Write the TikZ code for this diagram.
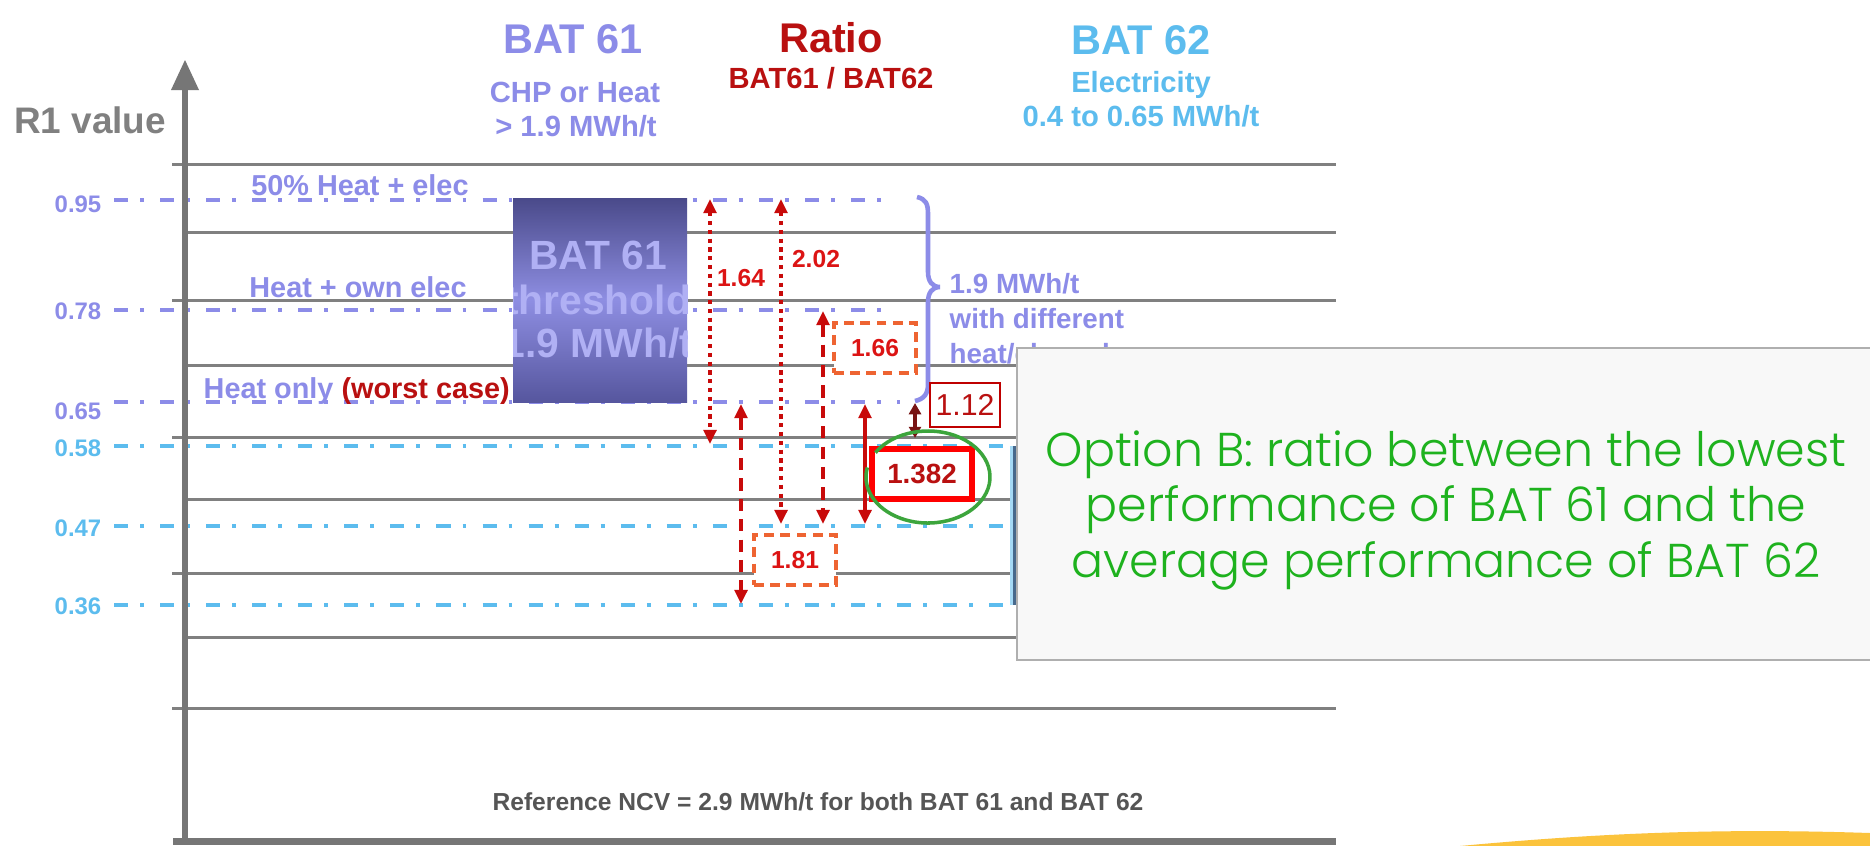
\documentclass[tikz,border=0pt]{standalone}
\usepackage{fontspec}
\setmainfont{Liberation Sans}
\newfontfamily\gothicfont{Poppins Light}
\usetikzlibrary{arrows.meta}
\definecolor{purp}{RGB}{140,140,232}
\definecolor{lblue}{RGB}{92,188,238}
\definecolor{hred}{RGB}{185,16,16}
\definecolor{ared}{RGB}{200,10,10}
\definecolor{lred}{RGB}{220,20,20}
\definecolor{dred}{RGB}{120,20,20}
\definecolor{gridg}{RGB}{128,128,128}
\definecolor{axisg}{RGB}{118,118,118}
\definecolor{txtg}{RGB}{85,85,85}
\definecolor{obgreen}{RGB}{30,178,30}
\definecolor{circgreen}{RGB}{60,165,60}
\definecolor{swoosh}{RGB}{251,195,60}
\definecolor{boxtop}{RGB}{74,74,138}
\definecolor{boxmid}{RGB}{142,142,226}
\definecolor{boxbot}{RGB}{86,86,158}
\definecolor{boxtxt}{RGB}{176,176,244}
\definecolor{orangered}{RGB}{238,100,50}
\definecolor{slate}{RGB}{72,105,140}
\definecolor{obfill}{RGB}{248,248,248}
\definecolor{obborder}{RGB}{175,175,175}
\tikzset{
  gridline/.style={draw=gridg,line width=0.85pt},
  lvl/.style={line width=1.3pt,dash pattern=on 4pt off 3.4pt on 1.1pt off 4.6pt},
  lvlab/.style={anchor=base,inner sep=0pt,font=\bfseries\fontsize{6.8}{8}\selectfont},
  bighead/.style={anchor=base,inner sep=0pt,font=\bfseries\fontsize{11.8}{14}\selectfont},
  subhead/.style={anchor=base,inner sep=0pt,font=\bfseries\fontsize{8.3}{10}\selectfont},
  lvltext/.style={anchor=base,inner sep=0pt,font=\bfseries\fontsize{8.2}{10}\selectfont,text=purp},
  boxtext/.style={anchor=base,inner sep=0pt,text=boxtxt,font=\bfseries\fontsize{11.6}{13}\selectfont},
  bracetext/.style={anchor=base west,inner sep=0pt,text=purp,font=\bfseries\fontsize{7.9}{10}\selectfont},
  tipd/.style={arrows={Triangle[length=4pt,width=3.6pt]-Triangle[length=4pt,width=3.6pt]}},
  dotarr/.style={tipd,draw=ared,line width=1.2pt,dash pattern=on 1.2pt off 1.3pt},
  dasharr/.style={tipd,draw=ared,line width=1.3pt,dash pattern=on 3.5pt off 2.3pt},
  solarr/.style={tipd,draw=ared,line width=1.3pt},
  smallarr/.style={arrows={Triangle[length=3.2pt,width=3.4pt]-Triangle[length=3.2pt,width=3.4pt]},draw=dred,line width=1.1pt},
  ratiolab/.style={anchor=base,inner sep=0pt,text=lred,font=\bfseries\fontsize{7}{8}\selectfont},
  dashbox/.style={draw=orangered,line width=0.9pt,dash pattern=on 2.8pt off 1.8pt,fill=white,inner sep=0pt,minimum width=0.82cm,minimum height=0.5cm,text=lred,font=\bfseries\fontsize{7}{8}\selectfont},
  keybox/.style={draw=red,line width=1.5pt,fill=white,inner sep=0pt,minimum width=1.0cm,minimum height=0.5cm,text=hred,font=\bfseries\fontsize{7.9}{9}\selectfont},
  thinbox/.style={draw=red!75!black,line width=0.6pt,fill=white,inner sep=0pt,minimum width=0.7cm,minimum height=0.44cm,text=hred,font=\fontsize{8.6}{10}\selectfont},
  obtext/.style={anchor=base,inner sep=0pt,text=obgreen,font=\gothicfont\fontsize{13.5}{16}\selectfont},
}
\begin{document}
\begin{tikzpicture}[x=0.01cm,y=-0.01cm]
\useasboundingbox (0,0) rectangle (1870,845);
\fill[white] (0,0) rectangle (1870,845);

% grid lines
\foreach \yy/\xx in {164/172,232/185,300/172,365/185,437/172,499/185,573/172,637/185,708/172}
  \draw[gridline] (\xx,\yy) -- (1336,\yy);

% level lines
\foreach \yy/\xe in {200/897,310/897,402/900}
  \draw[lvl,purp] (114,\yy) -- (\xe,\yy);
\foreach \yy in {446,526,605}
  \draw[lvl,lblue] (114,\yy) -- (1010,\yy);

% axis
\draw[axisg,line width=1.7pt] (185,86) -- (185,845);
\fill[axisg] (171,90) -- (185,60) -- (199,90) -- cycle;

% axis label and level labels
\node[anchor=base,inner sep=0pt,text=gray,font=\bfseries\fontsize{10.5}{12}\selectfont] (r1) at (90,133) {R1 value};
\node[lvlab,text=purp] (l95) at (78,212) {0.95};
\node[lvlab,text=purp] (l78) at (78,319) {0.78};
\node[lvlab,text=purp] (l65) at (78,419) {0.65};
\node[lvlab,text=lblue] (l58) at (78,456) {0.58};
\node[lvlab,text=lblue] (l47) at (78,536) {0.47};
\node[lvlab,text=lblue] (l36) at (78,614) {0.36};

% headers
\node[bighead,text=purp] (h61) at (573,53) {BAT 61};
\node[subhead,text=purp] (h61a) at (575,102) {CHP or Heat};
\node[subhead,text=purp] (h61b) at (576,136) {> 1.9 MWh/t};
\node[bighead,text=hred] (hr) at (831,52) {Ratio};
\node[subhead,text=hred] (hra) at (831,88) {BAT61 / BAT62};
\node[bighead,text=lblue] (h62) at (1141,54) {BAT 62};
\node[subhead,text=lblue] (h62a) at (1141,92) {Electricity};
\node[subhead,text=lblue] (h62b) at (1141,126) {0.4 to 0.65 MWh/t};

% level texts
\node[lvltext] (t50) at (360,195) {50\% Heat + elec};
\node[lvltext] (town) at (358,297) {Heat + own elec};
\node[lvltext,anchor=base west] (tonly) at (203,398) {Heat only \textcolor{hred}{(worst case)}};

% BAT 61 threshold box
\shade[top color=boxtop,bottom color=boxbot,middle color=boxmid] (513,198) rectangle (687,402);
\begin{scope}
\clip (513,198) rectangle (687,402);
\node[boxtext] (bx1) at (598,269) {BAT 61};
\node[boxtext] (bx2) at (598,314) {threshold};
\node[boxtext] (bx3) at (598,357) {1.9 MWh/t};
\end{scope}

% brace
\draw[purp,line width=1.3pt] (917,197) .. controls (926,199) and (928,204) .. (928,214) -- (928,272)
  .. controls (928,281) and (932,287) .. (940,287) .. controls (932,287) and (928,293) .. (928,302)
  -- (928,384) .. controls (928,394) and (924,399) .. (915,401);

% arrow end coordinates
\coordinate (a1t) at (710,199); \coordinate (a1b) at (710,444);
\coordinate (a2t) at (781,199); \coordinate (a2b) at (781,524);
\coordinate (a3t) at (741,404); \coordinate (a3b) at (741,604);
\coordinate (a4t) at (823,311); \coordinate (a4b) at (823,524);
\coordinate (a5t) at (865,404); \coordinate (a5b) at (865,524);
\coordinate (a6t) at (915,403); \coordinate (a6b) at (915,438);

\draw[dotarr] (a1t) -- (a1b);
\draw[dotarr] (a2t) -- (a2b);
\draw[dasharr] (a3t) -- (a3b);
\draw[dasharr] (a4t) -- (a4b);
\draw[solarr] (a5t) -- (a5b);
\draw[smallarr] (a6t) -- (a6b);

\node[ratiolab] (r164) at (741,286) {1.64};
\node[ratiolab] (r202) at (816,267) {2.02};
\node[dashbox] (r166) at (875,348) {1.66};
\node[dashbox] (r181) at (795,560) {1.81};
\node[keybox] (r1382) at (922,474) {1.382};
\node[thinbox] (r112) at (965,405) {1.12};

% green hand-drawn circle
\draw[circgreen,line width=1pt] (928,477) ++(212:62 and 46) arc[start angle=212,end angle=552,x radius=62,y radius=46];

% BAT 62 box edge (mostly hidden)
\fill[lblue!55] (1010,446) rectangle (1030,605);
\draw[slate,line width=0.9pt] (1015,446) -- (1015,605);

% brace text
\node[bracetext] (bt1) at (949,293) {1.9 MWh/t};
\node[bracetext] (bt2) at (949,328) {with different};
\node[bracetext] (bt3) at (949,363) {heat/elec. shares};

% Option B box
\draw[fill=obfill,draw=obborder,line width=0.7pt] (1017,348) rectangle (1880,660);
\node[obtext] (ob1) at (1446,466) {Option B: ratio between the lowest};
\node[obtext] (ob2) at (1446,521) {performance of BAT 61 and the};
\node[obtext] (ob3) at (1446,577) {average performance of BAT 62};

% footnote
\node[anchor=base,inner sep=0pt,text=txtg,font=\bfseries\fontsize{7}{8}\selectfont] (ref) at (818,810) {Reference NCV = 2.9 MWh/t for both BAT 61 and BAT 62};

% bottom axis line
\draw[axisg,line width=2pt] (173,841) -- (1336,841);

% swoosh
\fill[swoosh] (1460,846) .. controls (1600,833) and (1720,828) .. (1870,833) -- (1870,846) -- cycle;
\end{tikzpicture}
\end{document}
